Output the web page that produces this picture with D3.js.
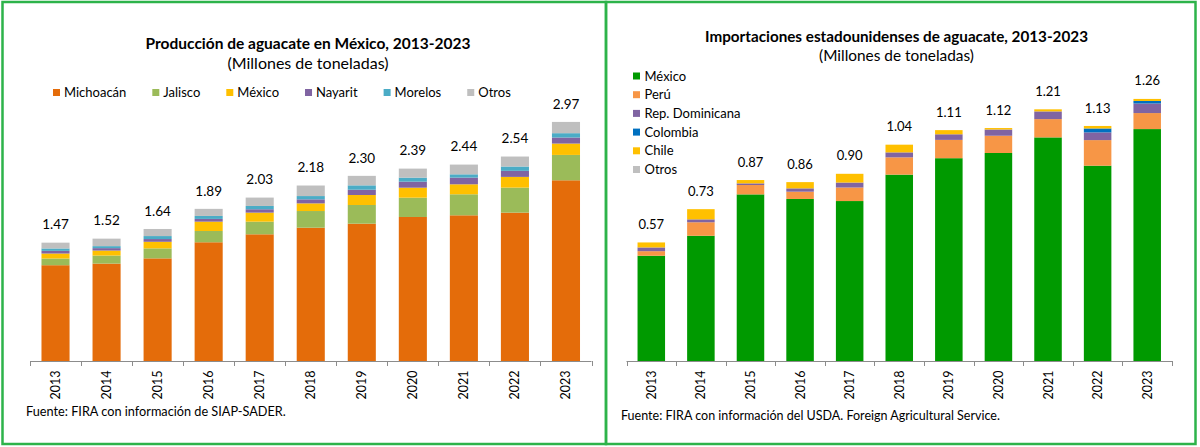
<!DOCTYPE html>
<html><head><meta charset="utf-8">
<script src="https://cdn.jsdelivr.net/npm/d3@7"></script>
<style>
body{margin:0;background:#fff}
svg{display:block}
text{font-family:Lato,"Liberation Sans",sans-serif;fill:#000}
</style>
</head><body>
<svg id="chart" width="1200" height="447"></svg>
<script>
// ---------- DATA ----------
const years = ["2013","2014","2015","2016","2017","2018","2019","2020","2021","2022","2023"];

// Producción de aguacate en México (millones de toneladas)
const prodSeries = ["Michoacán","Jalisco","México","Nayarit","Morelos","Otros"];
const prodMichoacan = [1.190,1.210,1.275,1.475,1.574,1.656,1.706,1.789,1.810,1.843,2.245];
const prodJalisco   = [0.083,0.100,0.124,0.140,0.157,0.207,0.232,0.240,0.261,0.311,0.315];
const prodMexico    = [0.062,0.062,0.082,0.116,0.112,0.095,0.124,0.124,0.124,0.133,0.141];
const prodNayarit   = [0.033,0.030,0.034,0.034,0.042,0.050,0.066,0.075,0.083,0.075,0.075];
const prodMorelos   = [0.030,0.025,0.037,0.037,0.041,0.041,0.054,0.050,0.041,0.054,0.054];
const prodOtros     = [0.072,0.093,0.088,0.088,0.104,0.131,0.118,0.112,0.121,0.124,0.140];
const prodTotals    = ["1.47","1.52","1.64","1.89","2.03","2.18","2.30","2.39","2.44","2.54","2.97"];

// Importaciones estadounidenses de aguacate (millones de toneladas)
const impSeries = ["México","Perú","Rep. Dominicana","Colombia","Chile","Otros"];
const impMexico   = [0.506,0.602,0.801,0.779,0.769,0.896,0.975,1.000,1.075,0.939,1.115];
const impPeru     = [0.022,0.065,0.045,0.035,0.065,0.083,0.088,0.083,0.088,0.123,0.077];
const impRepDom   = [0.018,0.014,0.008,0.016,0.024,0.024,0.027,0.030,0.037,0.037,0.046];
const impColombia = [0.000,0.000,0.000,0.000,0.000,0.000,0.000,0.000,0.000,0.019,0.012];
const impChile    = [0.024,0.049,0.016,0.030,0.042,0.037,0.020,0.007,0.010,0.012,0.010];
const impOtros    = [0.000,0.000,0.000,0.000,0.000,0.000,0.000,0.000,0.000,0.000,0.000];
const impTotals   = ["0.57","0.73","0.87","0.86","0.90","1.04","1.11","1.12","1.21","1.13","1.26"];

// ---------- STYLE ----------
const prodColors = ["#E46C0A","#9BBB59","#FFC000","#8064A2","#4BACC6","#BFBFBF"];
const impColors  = ["#009A00","#F79646","#8064A2","#0070C0","#FFC000","#BFBFBF"];
const borderColor = "#2DB34A";
const axisColor = "#8C8C8C";

const svg = d3.select("#chart");

function fitText(sel, w){
  const l = sel.node().getComputedTextLength();
  const fs = parseFloat(sel.attr("font-size"));
  if (l > 0) sel.attr("font-size", (fs*w/l).toFixed(2));
  return sel;
}

function drawPanel(cfg){
  const g = svg.append("g");
  const rows = years.map((yr,i)=>{
    const o = {year: yr, total: cfg.totals[i]};
    cfg.values.forEach((arr,k)=>{ o["s"+k] = arr[i]; });
    return o;
  });
  const keys = cfg.values.map((_,k)=>"s"+k);
  const stacked = d3.stack().keys(keys)(rows);

  const x = d3.scaleBand().domain(years).range([cfg.x0, cfg.x1])
    .paddingInner(cfg.pad).paddingOuter(cfg.pad/2);
  const y = d3.scaleLinear().domain([0, cfg.yMax]).range([cfg.base, cfg.base - cfg.yMax*cfg.pxPerUnit]);

  // bars
  g.selectAll("g.layer").data(stacked).join("g")
    .attr("fill", (d,i)=>cfg.colors[i])
    .selectAll("rect").data(d=>d).join("rect")
    .attr("x", d=>x(d.data.year))
    .attr("width", x.bandwidth())
    .attr("y", d=>y(d[1]))
    .attr("height", d=>Math.max(0, y(d[0]) - y(d[1])));

  // totals
  const top = stacked[stacked.length-1];
  g.selectAll("text.tot").data(top).join("text")
    .attr("class","tot")
    .attr("x", d=>x(d.data.year) + x.bandwidth()/2)
    .attr("y", d=>y(d[1]) - 18)
    .attr("dy","0.35em")
    .attr("text-anchor","middle")
    .attr("font-size", cfg.labelSize)
    .text(d=>d.data.total);

  // axis
  const [r0, r1] = x.range();
  g.append("line").attr("x1", r0).attr("x2", r1)
    .attr("y1", cfg.base+0.5).attr("y2", cfg.base+0.5)
    .attr("stroke", axisColor).attr("stroke-width", 1);
  const step = x.step();
  g.selectAll("line.tick").data(d3.range(years.length+1)).join("line")
    .attr("class","tick")
    .attr("x1", i=>Math.round(r0 + i*step)+0.5).attr("x2", i=>Math.round(r0 + i*step)+0.5)
    .attr("y1", cfg.base).attr("y2", cfg.base+5)
    .attr("stroke", axisColor);
  g.selectAll("text.yr").data(years).join("text")
    .attr("class","yr")
    .attr("transform", d=>`translate(${x(d)+x.bandwidth()/2},${cfg.base+9.5}) rotate(-90)`)
    .attr("dy","0.36em")
    .attr("text-anchor","end")
    .attr("font-size", 12.5)
    .text(d=>d);

  // titles
  fitText(g.append("text").attr("x", cfg.titleX).attr("y", cfg.titleY).attr("dy","0.35em")
    .attr("text-anchor","middle").attr("font-weight","bold").attr("font-size",15)
    .text(cfg.title), cfg.titleW);
  fitText(g.append("text").attr("x", cfg.titleX).attr("y", cfg.subY).attr("dy","0.35em")
    .attr("text-anchor","middle").attr("font-size",14)
    .text("(Millones de toneladas)"), cfg.subW);

  // footnote
  fitText(g.append("text").attr("x", cfg.noteX).attr("y", cfg.noteY).attr("dy","0.35em")
    .attr("font-size",12).text(cfg.note), cfg.noteW);

  return {g, x, y};
}

// ---------- LEFT PANEL ----------
const left = drawPanel({
  values:[prodMichoacan,prodJalisco,prodMexico,prodNayarit,prodMorelos,prodOtros],
  totals: prodTotals, colors: prodColors,
  x0:30, x1:591.5, pad:0.45, base:361, yMax:3.0, pxPerUnit:80.5, labelSize:13.5,
  title:"Producción de aguacate en México, 2013-2023", titleX:308, titleY:43.5, titleW:325,
  subY:63.5, subW:161,
  note:"Fuente: FIRA con información de SIAP-SADER.", noteX:26, noteY:411.5, noteW:260
});
// horizontal legend
{
  const lg = left.g.append("g");
  let xpos = 64;
  prodSeries.forEach((name,i)=>{
    lg.append("rect").attr("x", xpos-11).attr("y", 92.5-3.5).attr("width",7).attr("height",7)
      .attr("fill", prodColors[i]);
    const t = lg.append("text").attr("x", xpos).attr("y", 92.5).attr("dy","0.35em")
      .attr("font-size",13).text(name);
    xpos += t.node().getComputedTextLength() + 37;
  });
}

// ---------- RIGHT PANEL ----------
const right = drawPanel({
  values:[impMexico,impPeru,impRepDom,impColombia,impChile,impOtros],
  totals: impTotals, colors: impColors,
  x0:626.5, x1:1172, pad:0.445, base:361, yMax:1.3, pxPerUnit:208, labelSize:13,
  title:"Importaciones estadounidenses de aguacate, 2013-2023", titleX:896.5, titleY:36.5, titleW:383,
  subY:55.5, subW:155,
  note:"Fuente: FIRA con información del USDA. Foreign Agricultural Service.", noteX:621, noteY:415.5, noteW:379
});
// vertical legend
{
  const lg = right.g.append("g");
  const ly = d3.scalePoint().domain(impSeries).range([76, 169.5]);
  impSeries.forEach((name,i)=>{
    lg.append("rect").attr("x", 633).attr("y", ly(name)-3.5).attr("width",7).attr("height",7)
      .attr("fill", impColors[i]);
    lg.append("text").attr("x", 644.5).attr("y", ly(name)).attr("dy","0.35em")
      .attr("font-size",13).text(name);
  });
}

// ---------- BORDERS ----------
svg.append("rect").attr("x",2.5).attr("y",2).attr("width",603.5).attr("height",442)
  .attr("fill","none").attr("stroke",borderColor).attr("stroke-width",2.5);
svg.append("rect").attr("x",606).attr("y",2).attr("width",589.5).attr("height",442)
  .attr("fill","none").attr("stroke",borderColor).attr("stroke-width",2.5);
</script>
</body></html>
